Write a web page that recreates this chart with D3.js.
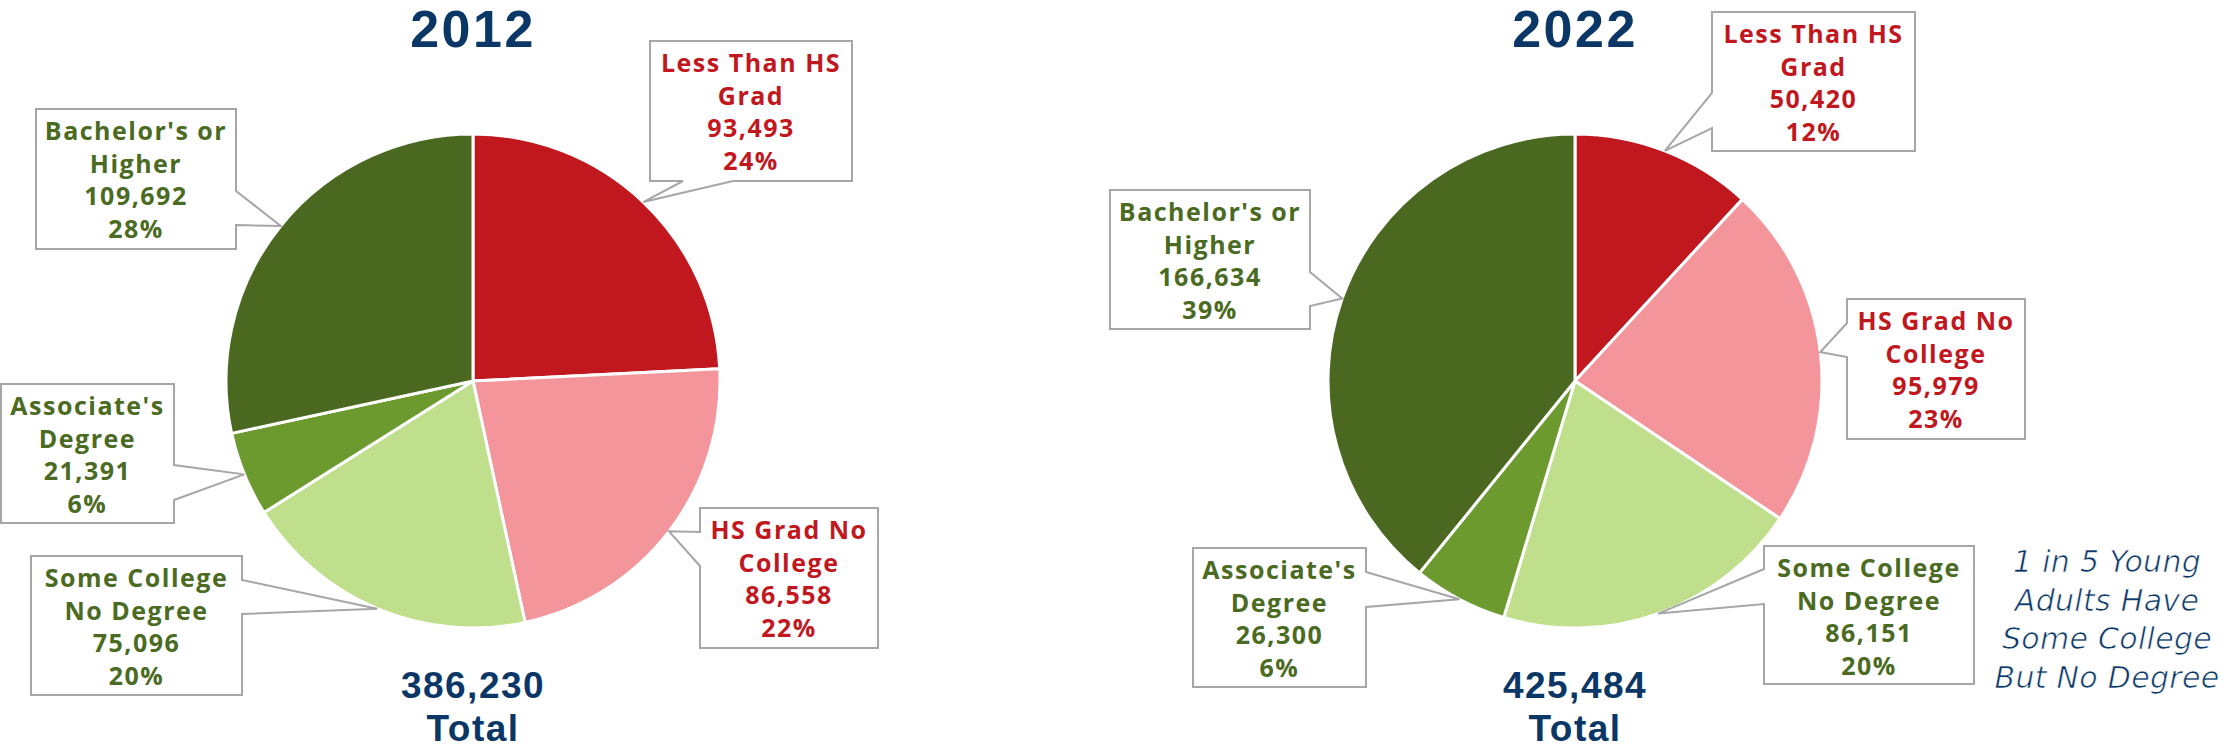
<!DOCTYPE html>
<html>
<head>
<meta charset="utf-8">
<script src="https://cdn.jsdelivr.net/npm/d3@7"></script>
<style>
  html, body { margin: 0; padding: 0; background: #ffffff; }
  svg { display: block; }
  text { font-family: "Open Sans", "Noto Sans", sans-serif; }
</style>
</head>
<body>
<svg id="chart" width="2227" height="749"></svg>
<script>
// ---- data ----
const categories = ["Less Than HS Grad", "HS Grad No College", "Some College No Degree", "Associate's Degree", "Bachelor's or Higher"];
const labelLines = [["Less Than HS", "Grad"], ["HS Grad No", "College"], ["Some College", "No Degree"], ["Associate's", "Degree"], ["Bachelor's or", "Higher"]];
const years = ["2012", "2022"];
const values2012 = [93493, 86558, 75096, 21391, 109692];
const values2022 = [50420, 95979, 86151, 26300, 166634];
const percent2012 = [24, 22, 20, 6, 28];
const percent2022 = [12, 23, 20, 6, 39];
const sliceColors = ["#c1171e", "#f3959a", "#bfdf8c", "#6d9a2e", "#4a6820"];
const labelColors = ["#c1171e", "#c1171e", "#4b6a22", "#4b6a22", "#4b6a22"];
const noteLines = ["1 in 5 Young", "Adults Have", "Some College", "But No Degree"];

// ---- layout (callout boxes: x, y, w, h, side of pointer, base offsets) ----
const pies = [
  { year: years[0], values: values2012, pct: percent2012, cx: 473, cy: 381,
    boxes: [
      { x: 650, y: 41, w: 202, h: 140, side: "bottom", b: [33, 83] },
      { x: 700, y: 508, w: 178, h: 140, side: "left", b: [24, 58] },
      { x: 31, y: 556, w: 211, h: 139, side: "right", b: [24, 58] },
      { x: 1, y: 384, w: 173, h: 139, side: "right", b: [81, 116] },
      { x: 36, y: 109, w: 200, h: 140, side: "right", b: [82, 116] }
    ] },
  { year: years[1], values: values2022, pct: percent2022, cx: 1575, cy: 381,
    boxes: [
      { x: 1712, y: 12, w: 203, h: 139, side: "left", b: [81, 116] },
      { x: 1847, y: 299, w: 178, h: 140, side: "left", b: [24, 58] },
      { x: 1764, y: 546, w: 210, h: 138, side: "left", b: [23, 58] },
      { x: 1193, y: 548, w: 173, h: 139, side: "right", b: [24, 59] },
      { x: 1110, y: 190, w: 200, h: 139, side: "right", b: [82, 116] }
    ] }
];
const R = 247;
const navy = "#0a3766";
const headFont = "'Liberation Sans', Arial, sans-serif";

const svg = d3.select("#chart");
const fmt = d3.format(",");

const pieGen = d3.pie().sort(null).value(d => d.value);
const arcGen = d3.arc().innerRadius(0).outerRadius(R);
const edgeArc = d3.arc().innerRadius(R).outerRadius(R);

function calloutPath(bx, tip) {
  const x0 = bx.x, y0 = bx.y, x1 = bx.x + bx.w, y1 = bx.y + bx.h;
  const p = [];
  if (bx.side === "right") {
    p.push([x0, y0], [x1, y0], [x1, y0 + bx.b[0]], tip, [x1, y0 + bx.b[1]], [x1, y1], [x0, y1]);
  } else if (bx.side === "left") {
    p.push([x0, y0], [x1, y0], [x1, y1], [x0, y1], [x0, y0 + bx.b[1]], tip, [x0, y0 + bx.b[0]]);
  } else {
    p.push([x0, y0], [x1, y0], [x1, y1], [x0 + bx.b[1], y1], tip, [x0 + bx.b[0], y1], [x0, y1]);
  }
  return "M" + p.map(q => q[0] + "," + q[1]).join("L") + "Z";
}

pies.forEach(cfg => {
  const rows = categories.map((c, i) => ({ cat: c, value: cfg.values[i], pct: cfg.pct[i], i }));
  const arcs = pieGen(rows);
  const total = d3.sum(cfg.values);
  const g = svg.append("g").attr("transform", `translate(${cfg.cx},${cfg.cy})`);

  g.selectAll("path.slice").data(arcs).join("path")
    .attr("class", "slice")
    .attr("d", arcGen)
    .attr("fill", d => sliceColors[d.data.i])
    .attr("stroke", "#ffffff")
    .attr("stroke-width", 3)
    .attr("stroke-linejoin", "round");

  // title
  svg.append("text")
    .attr("x", cfg.cx).attr("y", 47)
    .attr("text-anchor", "middle")
    .style("font-family", headFont)
    .attr("font-size", 52).attr("font-weight", 700)
    .attr("letter-spacing", 2.5)
    .attr("fill", navy)
    .text(cfg.year);

  // total (one text, two lines)
  const tt = svg.append("text")
    .attr("text-anchor", "middle")
    .style("font-family", headFont)
    .attr("font-size", 37).attr("font-weight", 700)
    .attr("letter-spacing", 1.5)
    .attr("fill", navy);
  tt.append("tspan").attr("x", cfg.cx).attr("y", 698).text(fmt(total));
  tt.append("tspan").attr("x", cfg.cx).attr("y", 741).text("Total");

  // callouts
  arcs.forEach(a => {
    const bx = cfg.boxes[a.data.i];
    const c = edgeArc.centroid(a);
    const tip = [cfg.cx + c[0], cfg.cy + c[1]];
    svg.append("path")
      .attr("d", calloutPath(bx, tip))
      .attr("fill", "#ffffff")
      .attr("stroke", "#a6a6a6")
      .attr("stroke-width", 2)
      .attr("stroke-linejoin", "miter");
    const lines = labelLines[a.data.i].concat([fmt(a.data.value), a.data.pct + "%"]);
    const t = svg.append("text")
      .attr("text-anchor", "middle")
      .attr("font-size", 25).attr("font-weight", 700)
      .attr("letter-spacing", 1.5)
      .attr("fill", labelColors[a.data.i]);
    lines.forEach((ln, k) => {
      t.append("tspan")
        .attr("x", bx.x + bx.w / 2)
        .attr("y", bx.y + 31 + k * 32.5)
        .text(ln);
    });
  });
});

// annotation
const note = svg.append("text")
  .attr("text-anchor", "middle")
  .style("font-family", "'DejaVu Sans', 'Open Sans', sans-serif")
  .attr("font-size", 30).attr("font-style", "italic").attr("font-weight", 200)
  .attr("letter-spacing", 0.3)
  .attr("fill", navy)
  .attr("stroke", "#ffffff")
  .attr("stroke-width", 0.7);
noteLines.forEach((ln, k) => {
  note.append("tspan").attr("x", 2107).attr("y", 572 + k * 38.7).text(ln);
});
</script>
</body>
</html>
